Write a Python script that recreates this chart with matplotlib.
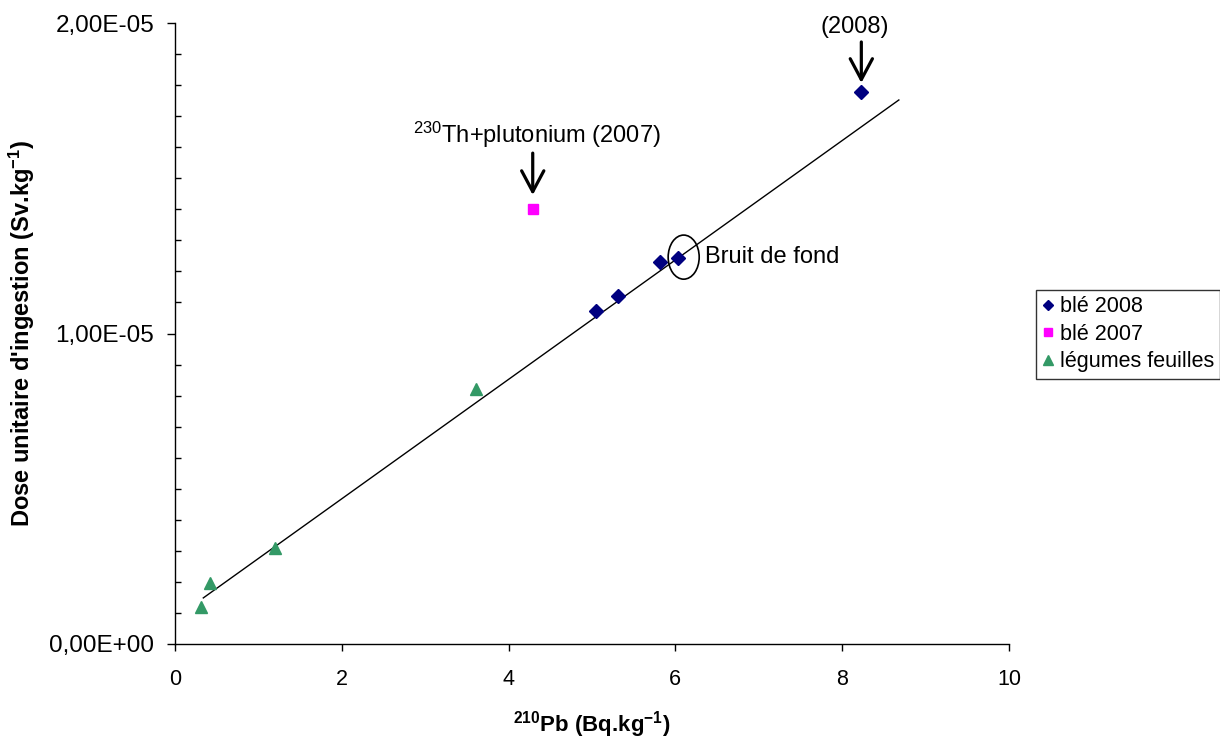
import matplotlib
matplotlib.use("Agg")
import matplotlib.pyplot as plt
from matplotlib.patches import Ellipse
from matplotlib.ticker import MultipleLocator, FuncFormatter

plt.rcParams['font.family'] = ['Liberation Sans', 'DejaVu Sans']
plt.rcParams['mathtext.fontset'] = 'custom'
plt.rcParams['mathtext.rm'] = 'Liberation Sans'
plt.rcParams['mathtext.it'] = 'Liberation Sans'
plt.rcParams['mathtext.bf'] = 'Liberation Sans:bold'

# activite 210Pb (Bq/kg) et dose unitaire (Sv/kg)
ble2008_x = [5.05, 5.31, 5.82, 6.03, 8.23]
ble2008_y = [1.072e-5, 1.121e-5, 1.230e-5, 1.243e-5, 1.778e-5]
ble2007_x = [4.29]
ble2007_y = [1.401e-5]
legumes_x = [0.31, 0.42, 1.20, 3.61]
legumes_y = [0.119e-5, 0.196e-5, 0.309e-5, 0.821e-5]

# droite de tendance
trend_x = [0.34, 8.68]
trend_slope = 1.923e-6
trend_intercept = 0.083e-5

fig = plt.figure(figsize=(12.2, 7.38), dpi=100)
ax = fig.add_axes([0.1434, 0.1274, 0.8270 - 0.1434, 0.9688 - 0.1274])

ax.plot(trend_x, [trend_slope * x + trend_intercept for x in trend_x],
        color='black', lw=1.0, zorder=2)
h1, = ax.plot(ble2008_x, ble2008_y, 'D', color='#000080', ms=7, ls='none', zorder=3)
h2, = ax.plot(ble2007_x, ble2007_y, 's', color='#ff00ff', ms=7.5, ls='none', zorder=3)
h3, = ax.plot(legumes_x, legumes_y, '^', color='#339966', ms=9, ls='none', zorder=3)

ax.set_xlim(0, 10)
ax.set_ylim(0, 2e-5)
ax.xaxis.set_major_locator(MultipleLocator(2))
ax.yaxis.set_major_locator(MultipleLocator(1e-5))
ax.yaxis.set_minor_locator(MultipleLocator(1e-6))
ax.yaxis.set_major_formatter(FuncFormatter(lambda v, p: f"{v:.2E}".replace('.', ',')))
ax.tick_params(axis='y', which='major', direction='out', length=6, width=1, labelsize=17.5, pad=9)
ax.tick_params(axis='y', which='minor', direction='in', length=4.5, width=1)
ax.tick_params(axis='x', which='major', direction='out', length=5, width=1, labelsize=15.5, pad=13)

for s in ['top', 'right']:
    ax.spines[s].set_visible(False)
for s in ['left', 'bottom']:
    ax.spines[s].set_linewidth(1.0)

ax.set_xlabel(r'$^{\mathbf{210}}$Pb (Bq.kg$^{\mathbf{-1}}$)', fontsize=16, fontweight='bold', labelpad=14)
ax.set_ylabel(r"Dose unitaire d'ingestion (Sv.kg$^{\mathbf{-1}}$)", fontsize=17, fontweight='bold', labelpad=9)

# annotations
arrow = dict(arrowstyle='->,head_length=0.75,head_width=0.4', lw=2.3, color='black',
             mutation_scale=20, shrinkA=0, shrinkB=0)
ax.annotate('', xy=(ble2008_x[-1], 1.807e-5), xytext=(ble2008_x[-1], 1.939e-5), arrowprops=arrow)
ax.text(8.15, 1.987e-5, '(2008)', fontsize=17, ha='center', va='center')
ax.annotate('', xy=(ble2007_x[0], 1.446e-5), xytext=(ble2007_x[0], 1.581e-5), arrowprops=arrow)
ax.text(4.335, 1.639e-5, r'$^{230}$Th+plutonium (2007)', fontsize=17, ha='center', va='center')

ax.add_patch(Ellipse((6.10, 1.246e-5), 0.372, 0.142e-5, fill=False, ec='black', lw=1.2, zorder=4))
ax.text(6.36, 1.246e-5, 'Bruit de fond', fontsize=17, ha='left', va='center')

leg = fig.legend([h1, h2, h3], ['blé 2008', 'blé 2007', 'légumes feuilles'],
                 loc='upper left', bbox_to_anchor=(1036 / 1220, 1 - 290 / 738),
                 borderaxespad=0, fontsize=15.5, frameon=True, fancybox=False,
                 edgecolor='black', handlelength=0.5, handletextpad=0.3,
                 borderpad=0.3, labelspacing=0.3, markerscale=0.75)
leg.get_frame().set_linewidth(1.0)

fig.savefig('out.png', dpi=100)
